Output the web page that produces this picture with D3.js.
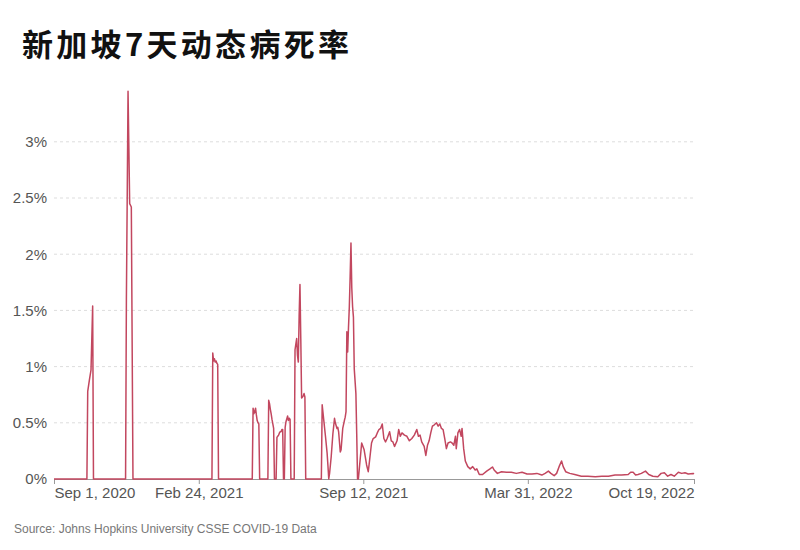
<!DOCTYPE html>
<meta charset="utf-8">
<style>
body {
  margin: 0;
  background-color: #fff;
}
.title {
  font: 700 31px "Noto Sans CJK SC";
  letter-spacing: 3.3px;
  fill: #111;
}
.tick text {
  font: 15px "Liberation Sans", Arial, sans-serif;
  fill: #555;
}
.source {
  font: 12px "Liberation Sans", Arial, sans-serif;
  fill: #777;
}
</style>
<body>
<div id="chart"></div>
<script src="https://d3js.org/d3.v7.min.js"></script>
<script>

// days since Sep 1, 2020 and 7-day case fatality rate (%)
var startDate = "2020-09-01";
var endDate = "2022-10-19";

var dayOffsets = [
  0, 40, 41, 43, 45, 47, 48,
  87, 88, 89, 90, 91, 92, 94, 96,
  192, 193, 194, 195, 196, 197, 198, 199, 200,
  241, 242, 243, 244, 245, 246, 247, 248, 249, 250,
  260, 261, 262, 263, 264, 265, 266, 267, 268,
  270, 271, 272, 273, 274, 275, 276, 277, 278, 279,
  280, 281, 282, 284, 285, 286, 287, 288,
  292, 293, 294, 295, 296, 297, 298, 299, 300, 301, 302, 303, 304, 305, 306,
  325, 326, 328, 330, 332, 333, 334, 335, 337, 339, 341, 342, 344, 345, 346, 348, 349, 351, 353, 354, 355,
  356, 357, 358, 359, 360, 361, 362, 363, 364, 365, 367, 368, 369, 370,
  374, 377, 380, 382, 383, 386, 388, 391, 393, 395, 397, 399, 401, 403, 405, 408, 410, 412, 414, 417,
  419, 421, 423, 426, 429, 432, 435, 438, 441, 443, 445, 447, 450, 452, 454, 456, 458, 460, 462, 465,
  467, 469, 471, 473, 475, 477, 479, 482, 484, 486, 488, 489, 491, 493, 495, 496, 498, 500, 503, 506,
  509, 512, 514, 517, 521, 526, 530, 533, 535, 539, 544, 550, 556, 562, 569, 575, 581, 587, 593, 597,
  601, 604, 608, 611, 614, 617, 619, 622, 627, 633, 641, 649, 658, 666, 674, 682, 690, 698, 701, 704,
  707, 710, 714, 719, 723, 728, 734, 738, 742, 746, 750, 754, 759, 763, 767, 771, 777, 778
];

var cfrPct = [
  0, 0, 0.78, 0.88, 0.97, 1.54, 0,
  0, 1.6, 2.5, 3.45, 2.95, 2.45, 2.42, 0,
  0, 1.12, 1.05, 1.07, 1.04, 1.05, 1.03, 1.02, 0,
  0, 0.63, 0.58, 0.60, 0.63, 0.57, 0.52, 0.50, 0.49, 0,
  0, 0.70, 0.67, 0.62, 0.58, 0.53, 0.49, 0.45, 0,
  0, 0.37, 0.38, 0.39, 0.41, 0.42, 0.42, 0.44, 0.44, 0,
  0, 0.46, 0.51, 0.56, 0.52, 0.54, 0.53, 0,
  0, 1.15, 1.20, 1.25, 1.10, 1.04, 1.45, 1.73, 1.25, 0.72, 0.73, 0.74, 0.76, 0.73, 0,
  0, 0.66, 0.52, 0.38, 0.23, 0.12, 0, 0.05, 0.2, 0.4, 0.54, 0.5, 0.45, 0.46, 0.42, 0.24, 0.26, 0.45, 0.52, 0.55, 0.6,
  1.31, 1.13, 1.35, 1.53, 1.8, 2.10, 1.7, 1.53, 1.44, 0.98, 0.76, 0.4, 0, 0,
  0.32, 0.26, 0.125, 0.065, 0.125, 0.32, 0.36, 0.375, 0.41, 0.44, 0.45, 0.49, 0.36, 0.33, 0.36, 0.42, 0.34, 0.33, 0.29, 0.34,
  0.44, 0.38, 0.41, 0.39, 0.38, 0.34, 0.36, 0.39, 0.44, 0.38, 0.39, 0.33, 0.29, 0.21, 0.30, 0.34, 0.41, 0.47, 0.48, 0.50,
  0.47, 0.49, 0.45, 0.44, 0.36, 0.27, 0.32, 0.33, 0.32, 0.30, 0.38, 0.27, 0.41, 0.44, 0.38, 0.45, 0.27, 0.16, 0.11, 0.09,
  0.11, 0.08, 0.09, 0.04, 0.04, 0.07, 0.09, 0.107, 0.08, 0.05, 0.065, 0.06, 0.06, 0.05, 0.06, 0.045, 0.045, 0.05, 0.035, 0.05,
  0.07, 0.05, 0.03, 0.05, 0.11, 0.16, 0.11, 0.065, 0.05, 0.04, 0.025, 0.025, 0.02, 0.025, 0.025, 0.035, 0.035, 0.04, 0.06, 0.06,
  0.035, 0.04, 0.05, 0.07, 0.04, 0.025, 0.02, 0.05, 0.055, 0.025, 0.04, 0.025, 0.06, 0.05, 0.055, 0.045, 0.05, 0.045
];

var xTickDates = ["2020-09-01", "2021-02-24", "2021-09-12", "2022-03-31", "2022-10-19"];
var yTicks = [0, 0.005, 0.01, 0.015, 0.02, 0.025, 0.03];

var width = 800,
    height = 550,
    margin = {top: 86, right: 106, bottom: 71, left: 54};

var parseDate = d3.timeParse("%Y-%m-%d");
var start = parseDate(startDate);

var data = dayOffsets.map(function(d, i) {
  return {date: d3.timeDay.offset(start, d), value: cfrPct[i] / 100};
});

var x = d3.scaleTime()
    .domain([start, parseDate(endDate)])
    .range([margin.left, width - margin.right]);

var y = d3.scaleLinear()
    .domain([0, 0.035])
    .range([height - margin.bottom, height - margin.bottom - 3.5 * 112.4]);

var svg = d3.select("#chart")
    .append("svg")
    .attr("width", width)
    .attr("height", height);

svg.append("text")
    .attr("class", "title")
    .attr("x", 22)
    .attr("y", 56)
    .text("新加坡7天动态病死率");

// dashed gridlines
svg.append("g")
    .selectAll("line")
    .data(yTicks.slice(1))
    .enter().append("line")
    .attr("x1", x.range()[0])
    .attr("x2", x.range()[1])
    .attr("y1", function(d) { return y(d); })
    .attr("y2", function(d) { return y(d); })
    .style("stroke", "#ddd")
    .style("stroke-dasharray", "3,3");

var yAxis = svg.append("g")
    .attr("transform", "translate(" + margin.left + ",0)")
    .call(d3.axisLeft(y).tickValues(yTicks).tickSize(0).tickPadding(7).tickFormat(d3.format(".1~%")));
yAxis.select(".domain").remove();

var xAxis = svg.append("g")
    .attr("transform", "translate(0," + y(0) + ")")
    .call(d3.axisBottom(x)
      .tickValues(xTickDates.map(parseDate))
      .tickSize(5)
      .tickPadding(3)
      .tickFormat(d3.timeFormat("%b %-d, %Y")));
xAxis.select(".domain").style("stroke", "#999");
xAxis.selectAll(".tick line").style("stroke", "#999");
// first label starts at its tick, last one ends at it
xAxis.selectAll(".tick text")
    .attr("text-anchor", function(d, i, nodes) {
      return i === 0 ? "start" : (i === nodes.length - 1 ? "end" : "middle");
    });

var line = d3.line()
    .x(function(d) { return x(d.date); })
    .y(function(d) { return y(d.value); });

svg.append("path")
    .datum(data)
    .attr("d", line)
    .style("fill", "none")
    .style("stroke", "#c2475f")
    .style("stroke-width", 1.5)
    .style("stroke-linejoin", "round");

svg.append("text")
    .attr("class", "source")
    .attr("x", 14)
    .attr("y", 533)
    .text("Source: Johns Hopkins University CSSE COVID-19 Data");

</script>
</body>
</html>
